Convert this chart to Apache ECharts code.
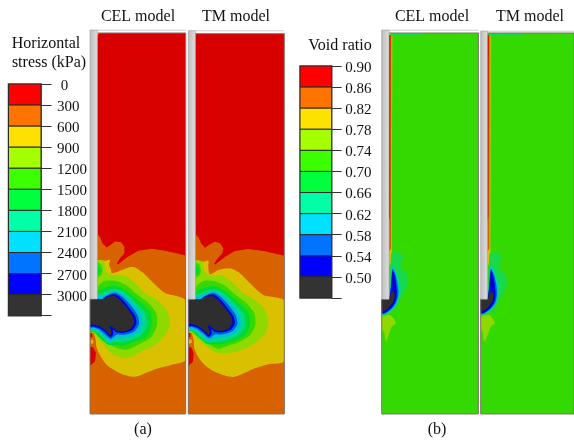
<!DOCTYPE html>
<html><head><meta charset="utf-8">
<style>html,body{margin:0;padding:0;background:#fff}#c{width:574px;height:443px}</style>
<script src="https://cdn.jsdelivr.net/npm/echarts@6/dist/echarts.min.js"></script>
</head><body><div id="c"></div>
<script>
// contour band colours (dimmed field colours), red to dark; last one is the soft void-ratio patch
const fieldColors=['#d90000','#d96200','#d9c000','#8dd900','#33d900','#00d933','#00d98d','#00bfd9','#005fd9','#0000d9','#2e2e2e','#18d84c'];
const legendColors=['#ff0000','#ff7300','#ffe100','#a6ff00','#3cff00','#00ff3c','#00ffa6','#00e1ff','#0073ff','#0000ff','#333333'];
const stressTicks=['\u00a00','300','600','900','1200','1500','1800','2100','2400','2700','3000',''];
const voidTicks=['0.90','0.86','0.82','0.78','0.74','0.70','0.66','0.62','0.58','0.54','0.50',''];

// Horizontal stress, CEL model: [band, outline]
const stressCel=[
[0,[[37,-570],[42,-576],[302,-576],[302,568],[15,568],[15,223],[37,223]]],
[1,[[37,26],[47,40],[52,55],[65,68],[78,60],[90,50],[108,52],[118,65],[118,85],[105,100],[95,117],[100,118],[125,98],[160,78],[200,72],[240,78],[302,92],[302,568],[15,568],[15,223],[37,223]]],
[2,[[37,108],[60,108],[75,105],[72,120],[78,135],[80,145],[100,140],[130,128],[150,128],[175,145],[205,175],[240,205],[302,228],[302,405],[260,420],[215,432],[150,456],[110,448],[70,425],[50,400],[35,370],[32,345],[25,325],[15,322],[15,223],[37,223]]],
[3,[[37,108],[52,108],[60,120],[62,140],[78,150],[105,150],[125,155],[150,175],[180,205],[215,225],[245,255],[255,295],[245,325],[215,358],[175,378],[135,398],[105,398],[78,385],[55,360],[38,340],[25,325],[15,322],[15,223],[37,223]]],
[4,[[37,112],[48,118],[53,135],[50,150],[37,160]]],
[5,[[37,122],[45,128],[47,140],[42,148],[37,150]]],
[4,[[45,178],[60,168],[90,168],[125,182],[155,208],[190,235],[213,265],[216,300],[200,335],[165,357],[125,375],[105,372],[85,365],[62,352],[40,335],[25,322],[15,320],[15,223],[37,190]]],
[5,[[45,195],[90,183],[130,203],[165,232],[195,262],[200,300],[185,335],[145,352],[112,363],[92,360],[70,360],[45,340],[30,322],[15,318],[15,223],[37,205]]],
[6,[[50,205],[90,192],[125,208],[155,238],[180,265],[186,300],[170,330],[130,348],[105,352],[88,352],[72,355],[50,336],[33,320],[15,316],[15,223],[37,210]]],
[7,[[55,212],[90,198],[120,213],[148,242],[168,268],[172,300],[157,325],[125,338],[100,340],[88,345],[75,350],[55,333],[35,316],[15,312],[15,223],[37,215]]],
[8,[[60,215],[90,203],[115,218],[140,245],[158,272],[162,298],[148,320],[120,330],[95,330],[82,340],[75,342],[58,328],[40,313],[25,308],[15,308],[15,223],[50,223]]],
[9,[[68,212],[90,208],[110,222],[132,248],[151,275],[154,297],[142,316],[118,324],[95,323],[84,315],[85,328],[76,338],[60,322],[42,310],[25,305],[15,305],[15,223],[55,223]]],
[10,[[15,223],[55,223],[70,215],[88,213],[105,225],[125,248],[145,275],[148,295],[138,312],[118,320],[95,318],[80,305],[73,302],[80,322],[76,332],[62,318],[45,305],[28,300],[15,298]]],
[0,[[15,365],[25,368],[33,385],[30,410],[15,423]]],
[0,[[15,323],[21,326],[22,336],[15,340]]],
[2,[[17,346],[24,345],[26,355],[18,358]]]
];
// Horizontal stress, TM model
const stressTm=[
[0,[[31,-572],[31,-574],[298,-574],[298,567],[10,567],[10,223],[31,223]]],
[1,[[31,26],[42,40],[48,55],[60,68],[75,58],[90,50],[105,55],[115,70],[112,85],[98,100],[87,117],[92,118],[120,96],[150,78],[190,72],[235,78],[298,92],[298,567],[10,567],[10,223],[31,223]]],
[2,[[31,108],[55,110],[70,107],[70,125],[75,148],[100,135],[135,130],[165,145],[195,175],[235,210],[298,228],[298,408],[250,418],[205,432],[145,456],[100,445],[65,425],[42,400],[28,370],[26,345],[20,325],[10,322],[10,223],[31,223]]],
[3,[[31,108],[47,108],[55,120],[57,140],[75,150],[100,150],[120,155],[145,175],[175,205],[210,225],[240,255],[250,295],[240,325],[210,355],[170,375],[130,385],[100,385],[75,372],[50,352],[33,335],[20,322],[10,320],[10,223],[31,223]]],
[4,[[31,112],[43,118],[48,135],[45,150],[31,160]]],
[5,[[31,122],[40,128],[42,140],[37,148],[31,150]]],
[4,[[40,178],[55,168],[85,168],[120,182],[150,208],[185,235],[208,265],[211,300],[195,330],[160,352],[120,365],[100,372],[80,362],[57,348],[35,332],[20,320],[10,318],[10,223],[31,190]]],
[5,[[40,195],[85,183],[125,203],[160,232],[190,262],[195,300],[180,332],[140,350],[107,358],[87,358],[65,356],[40,336],[25,320],[10,316],[10,223],[31,205]]],
[6,[[45,205],[85,192],[120,208],[150,238],[175,265],[181,300],[165,328],[125,345],[100,350],[83,350],[67,352],[45,333],[28,318],[10,314],[10,223],[31,210]]],
[7,[[50,212],[85,198],[115,213],[143,242],[163,268],[167,300],[152,323],[120,336],[95,338],[83,343],[70,347],[50,330],[30,314],[10,310],[10,223],[31,215]]],
[8,[[55,215],[85,203],[110,218],[135,245],[153,272],[157,298],[143,318],[115,328],[90,328],[77,338],[70,339],[53,325],[35,311],[20,306],[10,306],[10,223],[45,223]]],
[9,[[63,212],[85,208],[105,222],[127,248],[146,275],[149,297],[137,314],[113,322],[90,321],[79,313],[80,326],[71,335],[55,320],[37,308],[20,303],[10,303],[10,223],[50,223]]],
[10,[[10,223],[50,223],[65,215],[83,213],[100,225],[120,248],[140,275],[143,295],[133,310],[113,318],[90,316],[75,303],[68,302],[75,320],[71,330],[57,316],[40,303],[23,298],[10,296]]],
[0,[[10,365],[20,368],[26,385],[24,410],[10,423]]],
[0,[[10,322],[16,325],[17,335],[10,338]]],
[2,[[12,344],[19,343],[21,353],[13,356]]]
];
// Void ratio, CEL model
const voidCel=[
[4,[[57,-600],[62,-606],[325,-606],[325,537],[35,537],[35,193],[57,193]]],
[11,[[60,-606],[170,-605],[150,-600],[70,-597]]],
[2,[[57,-600],[67,-600],[65,80],[57,95]]],
[1,[[57,-600],[64,-600],[63,40],[57,50]]],
[0,[[56,-600],[61,-600],[60,-54],[56,-40]]],
[11,[[63,55],[85,50],[100,65],[90,95],[110,115],[115,140],[108,165],[92,190],[84,208],[70,225],[35,242],[35,193],[57,193]]],
[6,[[66,90],[76,100],[84,125],[92,150],[87,185],[78,210],[65,228],[35,240],[35,193],[57,193]]],
[7,[[66,95],[76,112],[84,140],[87,175],[80,205],[63,226],[38,238],[35,193],[57,193]]],
[8,[[67,102],[76,118],[82,145],[85,178],[78,203],[62,224],[38,237],[35,193],[57,193]]],
[9,[[68,105],[75,125],[80,165],[78,195],[65,218],[38,235],[35,193],[57,193]]],
[10,[[35,193],[57,193],[62,178],[70,165],[75,180],[70,200],[55,220],[36,232]]],
[3,[[37,245],[60,240],[70,250],[78,265],[65,275],[58,295],[48,320],[42,290],[37,285]]],
[11,[[75,227],[80,229],[79,234],[75,233]]]
];
// Void ratio, TM model
const voidTm=[
[4,[[52,-606],[52,-606],[312,-606],[312,537],[32,537],[32,193],[52,193]]],
[11,[[55,-606],[165,-603],[145,-598],[62,-596]]],
[2,[[52,-600],[62,-600],[61,80],[52,95]]],
[1,[[52,-600],[59,-600],[58,40],[52,50]]],
[0,[[52,-600],[56,-600],[55,-54],[52,-40]]],
[11,[[58,55],[80,52],[96,65],[85,95],[105,118],[112,140],[105,165],[90,190],[82,208],[68,225],[32,242],[32,193],[52,193]]],
[6,[[62,90],[72,100],[80,125],[88,150],[85,185],[76,210],[62,228],[32,240],[32,193],[52,193]]],
[7,[[61,95],[71,112],[80,140],[83,175],[78,205],[60,226],[34,238],[32,193],[52,193]]],
[8,[[62,102],[71,118],[78,145],[81,178],[76,203],[59,224],[34,237],[32,193],[52,193]]],
[9,[[63,105],[70,125],[76,165],[75,195],[62,218],[35,235],[32,193],[52,193]]],
[10,[[32,193],[52,193],[57,178],[65,165],[71,180],[67,200],[52,220],[33,232]]],
[3,[[34,245],[57,240],[67,250],[75,265],[62,275],[55,295],[43,320],[38,290],[34,285]]],
[11,[[71,227],[76,229],[75,234],[71,233]]]
];
// pile shaft outlines, top lines and frames
const pileCel=[[15,-585],[37,-585],[37,223],[15,223]];
const pileTm=[[10,-583],[31,-583],[31,223],[10,223]];
const pileVoidCel=[[35,-615],[57,-615],[57,193],[35,193]];
const pileVoidTm=[[32,-612],[52,-612],[52,193],[32,193]];
const topCel=[[37,-586],[302,-586],[302,-583],[37,-583]];
const topTm=[[31,-584],[298,-584],[298,-581],[31,-581]];
const topVoidCel=[[57,-616],[325,-616],[325,-613],[57,-613]];
const topVoidTm=[[52,-613],[312,-613],[312,-610],[52,-610]];
const frameCel=[[37,-576],[302,-576],[302,568],[15,568],[15,223]];
const frameTm=[[31,-574],[298,-574],[298,567],[10,567],[10,223]];
const frameVoidCel=[[57,-606],[325,-606],[325,537],[35,537],[35,193]];
const frameVoidTm=[[52,-606],[312,-606],[312,537],[32,537],[32,193]];

const panels=[
 {rect:[90,30,95.7,384],x:[15,302],y:[-585,568],layers:stressCel,pile:pileCel,top:topCel,frame:frameCel},
 {rect:[188.3,30,96,384],x:[10,298],y:[-585,567],layers:stressTm,pile:pileTm,top:topTm,frame:frameTm},
 {rect:[381.7,30,96.7,384],x:[35,325],y:[-615,537],layers:voidCel,pile:pileVoidCel,top:topVoidCel,frame:frameVoidCel},
 {rect:[480.7,30,93.3,384],x:[32,312],y:[-615,537],layers:voidTm,pile:pileVoidTm,top:topVoidTm,frame:frameVoidTm}
];
const legends=[
 {rect:[8.5,84,32.5,231.7],ticks:stressTicks,margin:16,tick:10.5},
 {rect:[300,66,31.7,232],ticks:voidTicks,margin:13.5,tick:10}
];
const texts=[
 ['CEL model',138,17],['TM model',236,17],['Horizontal',46,44],['stress (kPa)',49,63],
 ['(a)',143,430],['(b)',437,430],['CEL model',432,17],['TM model',530,17],['Void ratio',340,46]
];
const serif='"Liberation Serif","Times New Roman",serif';
const grids=[],xAxes=[],yAxes=[],series=[];
const poly=(api,pts,style,smooth)=>({type:'polygon',shape:{points:pts.map(p=>api.coord(p)),smooth:smooth||0},style});
panels.forEach((p,i)=>{
 grids.push({left:p.rect[0],top:p.rect[1],width:p.rect[2],height:p.rect[3]});
 xAxes.push({gridIndex:i,type:'value',min:p.x[0],max:p.x[1],show:false});
 yAxes.push({gridIndex:i,type:'value',min:p.y[0],max:p.y[1],inverse:true,show:false});
 series.push({type:'custom',xAxisIndex:i,yAxisIndex:i,silent:true,clip:true,animation:false,
  data:p.layers.map((l,k)=>[k]),
  renderItem(params,api){
   const l=p.layers[params.dataIndex];
   return poly(api,l[1],{fill:fieldColors[l[0]]},(params.dataIndex>0&&l[0]>=2&&l[0]<10&&l[1].length>6)?0.25:0);
  }});
 series.push({type:'custom',xAxisIndex:i,yAxisIndex:i,silent:true,clip:false,animation:false,
  data:[[0],[1],[2]],
  renderItem(params,api){
   const k=params.dataIndex;
   if(k===0) return {type:'polyline',shape:{points:p.frame.map(q=>api.coord(q))},style:{fill:null,stroke:'#7d7568',lineWidth:1}};
   if(k===1) return poly(api,p.top,{fill:'#cfcfcf'});
   return poly(api,p.pile,{
     fill:new echarts.graphic.LinearGradient(0,0,1,0,[{offset:0,color:'#bdbdbd'},{offset:.75,color:'#d6d6d6'},{offset:1,color:'#e6e6e6'}]),
     stroke:'#9a9a9a',lineWidth:.6});
  }});
});
legends.forEach((g,j)=>{
 const i=panels.length+j;
 grids.push({left:g.rect[0],top:g.rect[1],width:g.rect[2],height:g.rect[3],show:true,borderColor:'#9a9a9a',borderWidth:2,backgroundColor:'#fff'});
 xAxes.push({gridIndex:i,type:'value',min:0,max:1,show:false});
 yAxes.push({gridIndex:i,type:'value',min:0,max:11,interval:1,inverse:true,position:'right',
  splitLine:{show:false},axisLine:{show:true,onZero:false,lineStyle:{color:'#666',width:1}},
  axisTick:{show:true,length:g.tick,lineStyle:{color:'#333',width:1}},
  axisLabel:{margin:g.margin,showMinLabel:true,showMaxLabel:true,hideOverlap:false,
   rich:{a:{color:'#111',fontFamily:serif,fontSize:15,padding:[4,0,0,0]}},
   formatter:(v)=>{const s=g.ticks[Math.round(v)];return s?'{a|'+s+'}':'';}}});
 series.push({type:'custom',xAxisIndex:i,yAxisIndex:i,silent:true,animation:false,
  data:legendColors.map((c,k)=>[k]),
  renderItem(params,api){
   const k=params.dataIndex,a=api.coord([0,k]),b=api.coord([1,k+1]);
   return {type:'rect',shape:{x:a[0],y:a[1],width:b[0]-a[0],height:b[1]-a[1]},
    style:{fill:legendColors[k],stroke:'#2a2a2a',lineWidth:1}};
  }});
});
const chart=echarts.init(document.getElementById('c'),null,{renderer:'canvas'});
chart.setOption({animation:false,backgroundColor:'#fff',grid:grids,xAxis:xAxes,yAxis:yAxes,series,
 graphic:texts.map(t=>({type:'text',x:t[1],y:t[2],silent:true,
  style:{text:t[0],fill:'#111',font:'16px '+serif,textAlign:'center',textVerticalAlign:'middle'}}))});
</script></body></html>
